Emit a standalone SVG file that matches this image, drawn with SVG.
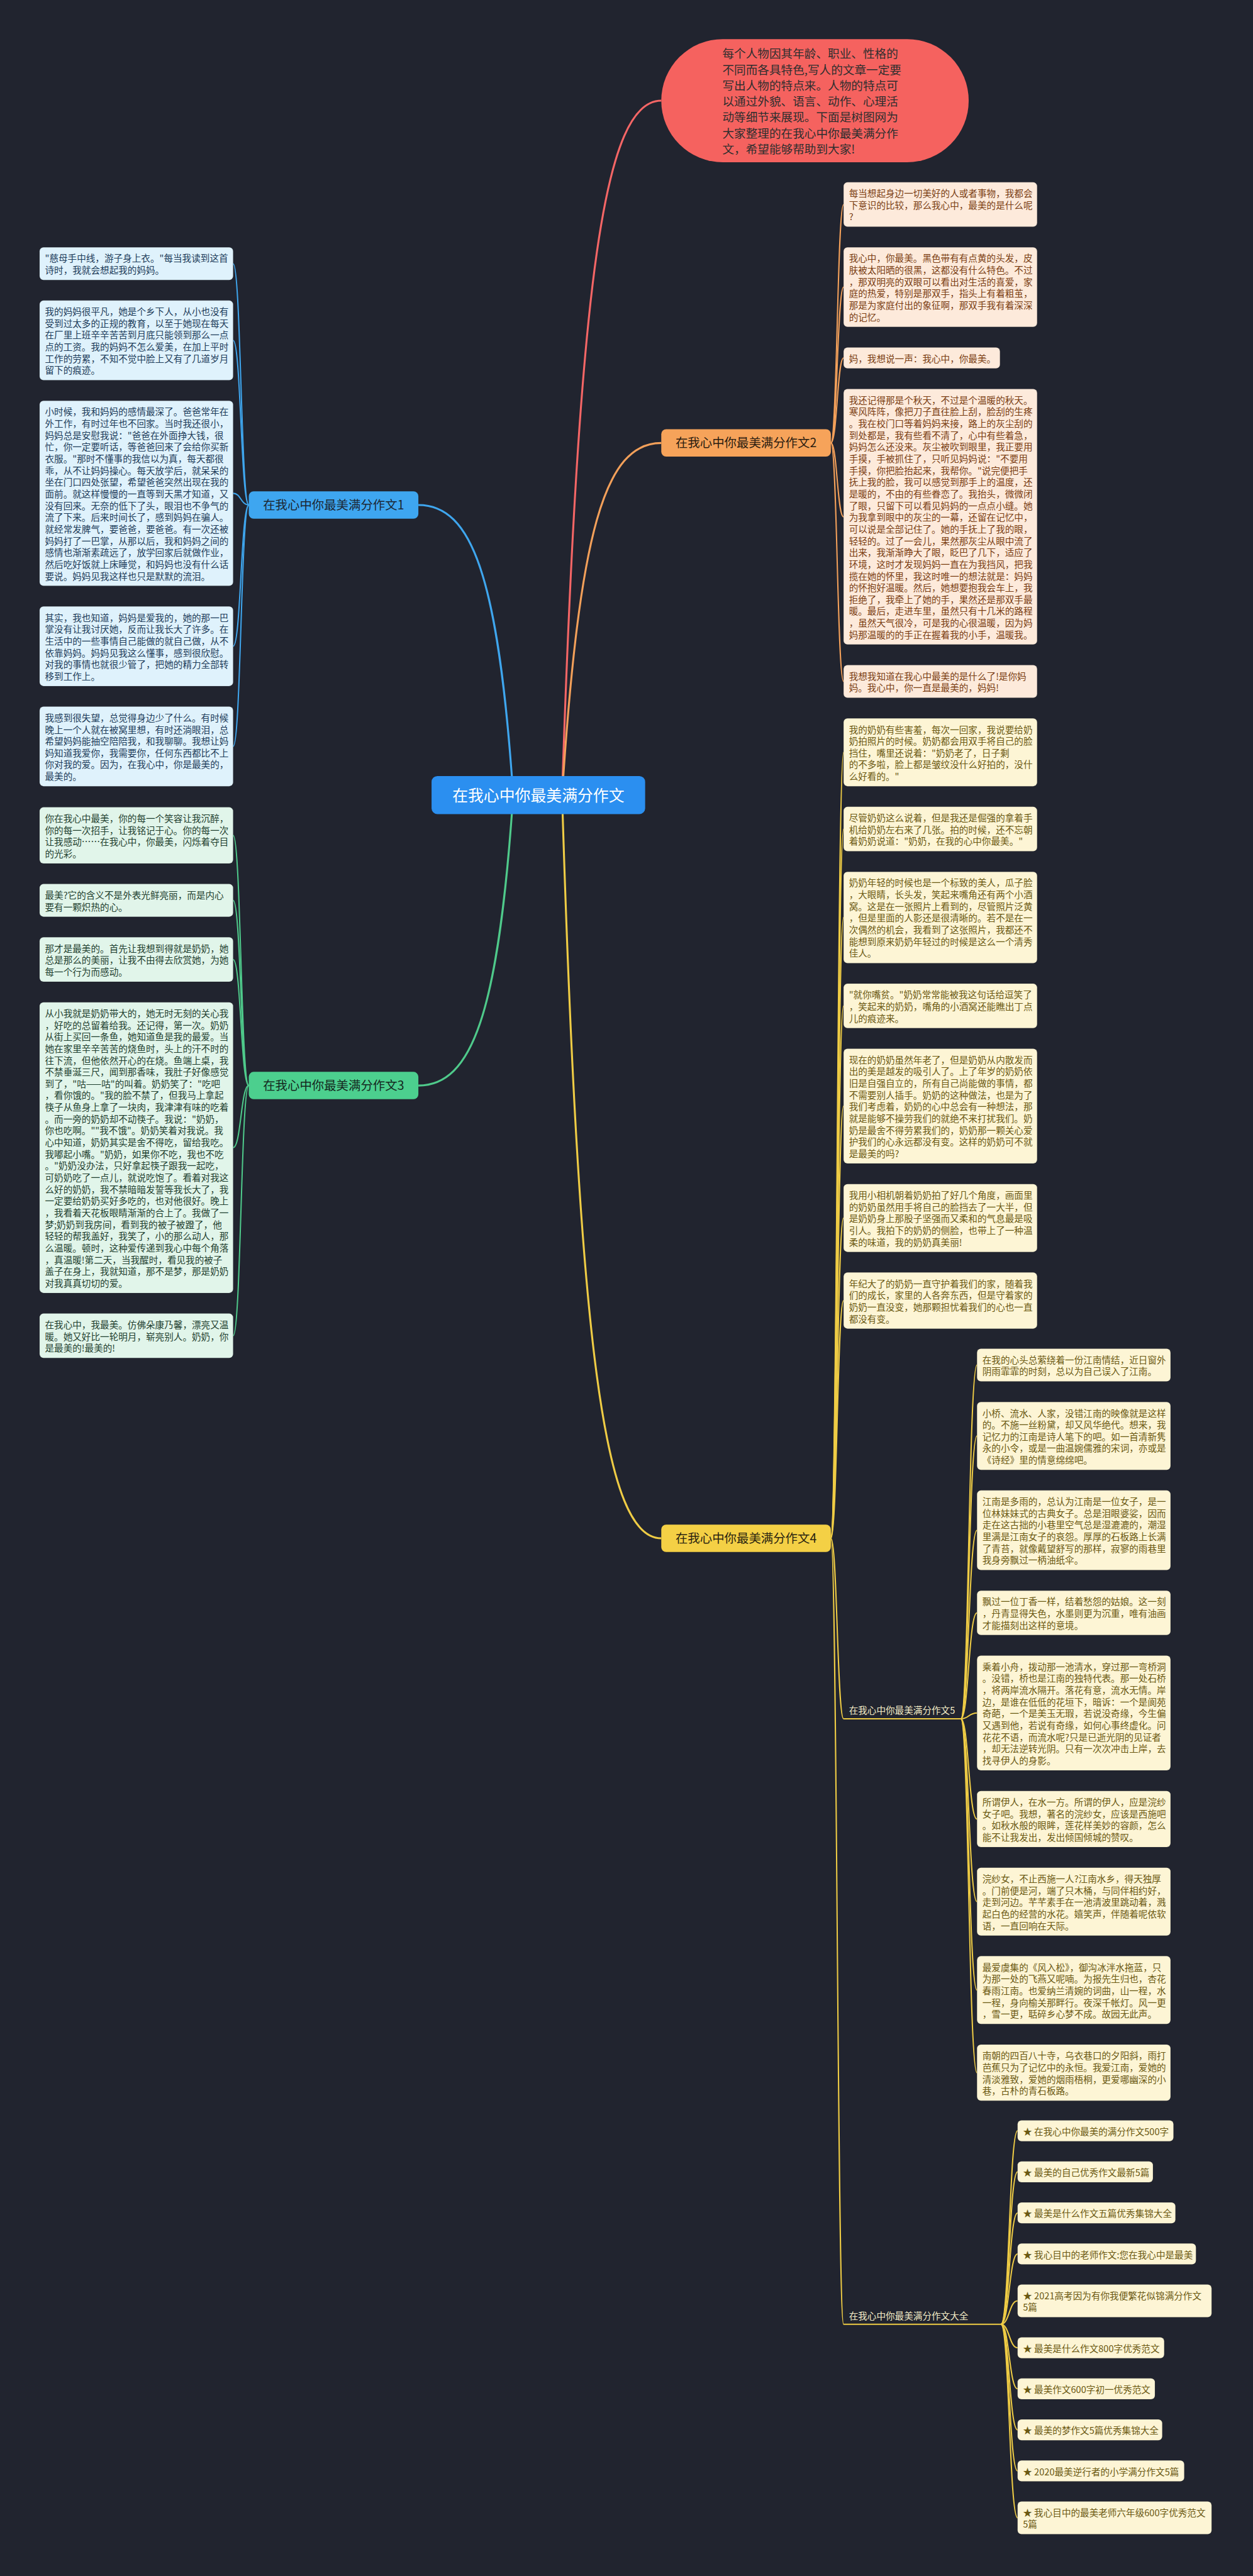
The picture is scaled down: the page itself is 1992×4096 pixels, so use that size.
<svg xmlns="http://www.w3.org/2000/svg" width="1992" height="4096" viewBox="0 0 1992 4096">
<style>
text{font-family:"Noto Sans CJK SC","Noto Sans",sans-serif;}
.t{font-size:18.8px;}
.fb{fill:#dff2fc}.tb{fill:#1d3c5a}
.fo{fill:#fdeadb}.to{fill:#7a3d12}
.fg{fill:#e1f5ea}.tg{fill:#1f3f2f}
.fy{fill:#fdf5d5}.ty{fill:#6b5912}
.box{stroke:#00000022;stroke-width:1}
.bl{font-size:25px;text-anchor:middle}
.cb{stroke:#3fa6ee}.co{stroke:#f3a05a}.cg{stroke:#4fca8b}.cy{stroke:#efcc45}.cr{stroke:#f56666}
#connectors path{fill:none;stroke-width:2.6}
#connectors path.main{stroke-width:4}
</style>
<rect width="1992" height="4096" fill="#21242f"/>
<g transform="scale(0.777)">
<g id="connectors">
<path class="main cr" d="M1150,1627 C1185,561 1237,206 1353,206"/>
<path class="main co" d="M1150,1627 C1185,1087 1237,906.5 1353,906.5"/>
<path class="main cy" d="M1150,1627 C1185,2767 1237,3148 1353,3148"/>
<path class="main cb" d="M1050,1627 C1020,1182 966,1033.5 856,1033.5"/>
<path class="main cg" d="M1050,1627 C1020,2073 966,2221.5 856,2221.5"/>
<path class="cb" d="M509,1033.5 C493,1033.5 493,539.5 477,539.5"/>
<path class="cb" d="M509,1033.5 C493,1033.5 493,696.5 477,696.5"/>
<path class="cb" d="M509,1033.5 C493,1033.5 493,1009.5 477,1009.5"/>
<path class="cb" d="M509,1033.5 C493,1033.5 493,1322.5 477,1322.5"/>
<path class="cb" d="M509,1033.5 C493,1033.5 493,1527.5 477,1527.5"/>
<path class="cg" d="M509,2221.5 C493,2221.5 493,1709.5 477,1709.5"/>
<path class="cg" d="M509,2221.5 C493,2221.5 493,1842.5 477,1842.5"/>
<path class="cg" d="M509,2221.5 C493,2221.5 493,1963.5 477,1963.5"/>
<path class="cg" d="M509,2221.5 C493,2221.5 493,2348.5 477,2348.5"/>
<path class="cg" d="M509,2221.5 C493,2221.5 493,2733.5 477,2733.5"/>
<path class="co" d="M1700,906.5 C1713,906.5 1713,418.5 1726,418.5"/>
<path class="co" d="M1700,906.5 C1713,906.5 1713,587.5 1726,587.5"/>
<path class="co" d="M1700,906.5 C1713,906.5 1713,732.5 1726,732.5"/>
<path class="co" d="M1700,906.5 C1713,906.5 1713,1057.5 1726,1057.5"/>
<path class="co" d="M1700,906.5 C1713,906.5 1713,1394.5 1726,1394.5"/>
<path class="cy" d="M1700,3148 C1713,3148 1713,1539.5 1726,1539.5"/>
<path class="cy" d="M1700,3148 C1713,3148 1713,1696.5 1726,1696.5"/>
<path class="cy" d="M1700,3148 C1713,3148 1713,1877.5 1726,1877.5"/>
<path class="cy" d="M1700,3148 C1713,3148 1713,2058.5 1726,2058.5"/>
<path class="cy" d="M1700,3148 C1713,3148 1713,2263.5 1726,2263.5"/>
<path class="cy" d="M1700,3148 C1713,3148 1713,2492.5 1726,2492.5"/>
<path class="cy" d="M1700,3148 C1713,3148 1713,2661.5 1726,2661.5"/>
<path class="cy" d="M1700,3148 C1713,3148 1713,3517.5 1726,3517.5"/>
<path class="cy" d="M1700,3148 C1713,3148 1713,4756.5 1726,4756.5"/>
<path class="cy" d="M1966,3517.5 C1982,3517.5 1982,2793.5 1999,2793.5"/>
<path class="cy" d="M1966,3517.5 C1982,3517.5 1982,2938.5 1999,2938.5"/>
<path class="cy" d="M1966,3517.5 C1982,3517.5 1982,3131.5 1999,3131.5"/>
<path class="cy" d="M1966,3517.5 C1982,3517.5 1982,3300.5 1999,3300.5"/>
<path class="cy" d="M1966,3517.5 C1982,3517.5 1982,3505.5 1999,3505.5"/>
<path class="cy" d="M1966,3517.5 C1982,3517.5 1982,3722.5 1999,3722.5"/>
<path class="cy" d="M1966,3517.5 C1982,3517.5 1982,3891.5 1999,3891.5"/>
<path class="cy" d="M1966,3517.5 C1982,3517.5 1982,4072.5 1999,4072.5"/>
<path class="cy" d="M1966,3517.5 C1982,3517.5 1982,4241.5 1999,4241.5"/>
<path class="cy" d="M2048,4756.5 C2065,4756.5 2065,4360.5 2082,4360.5"/>
<path class="cy" d="M2048,4756.5 C2065,4756.5 2065,4444.5 2082,4444.5"/>
<path class="cy" d="M2048,4756.5 C2065,4756.5 2065,4528.5 2082,4528.5"/>
<path class="cy" d="M2048,4756.5 C2065,4756.5 2065,4612.5 2082,4612.5"/>
<path class="cy" d="M2048,4756.5 C2065,4756.5 2065,4708.5 2082,4708.5"/>
<path class="cy" d="M2048,4756.5 C2065,4756.5 2065,4804.5 2082,4804.5"/>
<path class="cy" d="M2048,4756.5 C2065,4756.5 2065,4888.5 2082,4888.5"/>
<path class="cy" d="M2048,4756.5 C2065,4756.5 2065,4972.5 2082,4972.5"/>
<path class="cy" d="M2048,4756.5 C2065,4756.5 2065,5056.5 2082,5056.5"/>
<path class="cy" d="M2048,4756.5 C2065,4756.5 2065,5152.5 2082,5152.5"/>
<path class="cy" d="M1726,3517.5 H1966"/>
<path class="cy" d="M1726,4756.5 H2048"/>
</g>

<g id="root">
<rect x="883" y="1588" width="437" height="78" rx="12" fill="#2b8ff0"/>
<text x="1101.5" y="1639" font-size="32" fill="#ffffff" text-anchor="middle">在我心中你最美满分作文</text>
</g>

<g id="intro">
<rect x="1353" y="80" width="629" height="252" rx="126" fill="#f5625f"/>
<text x="1478" y="119" font-size="24" fill="#2e2e2e"><tspan x="1478" dy="0">每个人物因其年龄、职业、性格的</tspan><tspan x="1478" dy="32.5">不同而各具特色,写人的文章一定要</tspan><tspan x="1478" dy="32.5">写出人物的特点来。人物的特点可</tspan><tspan x="1478" dy="32.5">以通过外貌、语言、动作、心理活</tspan><tspan x="1478" dy="32.5">动等细节来展现。下面是树图网为</tspan><tspan x="1478" dy="32.5">大家整理的在我心中你最美满分作</tspan><tspan x="1478" dy="32.5">文，希望能够帮助到大家!</tspan></text>
</g>

<g id="branch1">
<rect x="509" y="1005.5" width="347" height="56" rx="10" fill="#3ea6f0"/>
<text class="bl" x="682.5" y="1042.5" fill="#1c2633">在我心中你最美满分作文1</text>
</g>
<g id="branch2">
<rect x="1353" y="878.5" width="347" height="56" rx="10" fill="#f6a35a"/>
<text class="bl" x="1526.5" y="915.5" fill="#2a1c10">在我心中你最美满分作文2</text>
</g>
<g id="branch3">
<rect x="509" y="2193.5" width="347" height="56" rx="10" fill="#4ccf8e"/>
<text class="bl" x="682.5" y="2230.5" fill="#14281e">在我心中你最美满分作文3</text>
</g>
<g id="branch4">
<rect x="1353" y="3120" width="347" height="56" rx="10" fill="#f4d045"/>
<text class="bl" x="1526.5" y="3157" fill="#2a2410">在我心中你最美满分作文4</text>
</g>

<g id="b1-1"><rect class="box fb" x="81" y="506" width="396" height="67" rx="8"/>
<text class="t tb" x="92" y="536"><tspan x="92" dy="0">"慈母手中线，游子身上衣。"每当我读到这首</tspan><tspan x="92" dy="24">诗时，我就会想起我的妈妈。</tspan></text></g>
<g id="b1-2"><rect class="box fb" x="81" y="615" width="396" height="163" rx="8"/>
<text class="t tb" x="92" y="645"><tspan x="92" dy="0">我的妈妈很平凡，她是个乡下人，从小也没有</tspan><tspan x="92" dy="24">受到过太多的正规的教育，以至于她现在每天</tspan><tspan x="92" dy="24">在厂里上班辛辛苦苦到月底只能领到那么一点</tspan><tspan x="92" dy="24">点的工资。我的妈妈不怎么爱美，在加上平时</tspan><tspan x="92" dy="24">工作的劳累，不知不觉中脸上又有了几道岁月</tspan><tspan x="92" dy="24">留下的痕迹。</tspan></text></g>
<g id="b1-3"><rect class="box fb" x="81" y="820" width="396" height="379" rx="8"/>
<text class="t tb" x="92" y="850"><tspan x="92" dy="0">小时候，我和妈妈的感情最深了。爸爸常年在</tspan><tspan x="92" dy="24">外工作，有时过年也不回家。当时我还很小，</tspan><tspan x="92" dy="24">妈妈总是安慰我说："爸爸在外面挣大钱，很</tspan><tspan x="92" dy="24">忙，你一定要听话，等爸爸回来了会给你买新</tspan><tspan x="92" dy="24">衣服。"那时不懂事的我信以为真，每天都很</tspan><tspan x="92" dy="24">乖，从不让妈妈操心。每天放学后，就呆呆的</tspan><tspan x="92" dy="24">坐在门口四处张望，希望爸爸突然出现在我的</tspan><tspan x="92" dy="24">面前。就这样慢慢的一直等到天黑才知道，又</tspan><tspan x="92" dy="24">没有回来。无奈的低下了头，眼泪也不争气的</tspan><tspan x="92" dy="24">流了下来。后来时间长了，感到妈妈在骗人。</tspan><tspan x="92" dy="24">就经常发脾气，要爸爸，要爸爸。有一次还被</tspan><tspan x="92" dy="24">妈妈打了一巴掌，从那以后，我和妈妈之间的</tspan><tspan x="92" dy="24">感情也渐渐素疏远了，放学回家后就做作业，</tspan><tspan x="92" dy="24">然后吃好饭就上床睡觉，和妈妈也没有什么话</tspan><tspan x="92" dy="24">要说。妈妈见我这样也只是默默的流泪。</tspan></text></g>
<g id="b1-4"><rect class="box fb" x="81" y="1241" width="396" height="163" rx="8"/>
<text class="t tb" x="92" y="1271"><tspan x="92" dy="0">其实，我也知道，妈妈是爱我的，她的那一巴</tspan><tspan x="92" dy="24">掌没有让我讨厌她，反而让我长大了许多。在</tspan><tspan x="92" dy="24">生活中的一些事情自己能做的就自己做，从不</tspan><tspan x="92" dy="24">依靠妈妈。妈妈见我这么懂事，感到很欣慰。</tspan><tspan x="92" dy="24">对我的事情也就很少管了，把她的精力全部转</tspan><tspan x="92" dy="24">移到工作上。</tspan></text></g>
<g id="b1-5"><rect class="box fb" x="81" y="1446" width="396" height="163" rx="8"/>
<text class="t tb" x="92" y="1476"><tspan x="92" dy="0">我感到很失望，总觉得身边少了什么。有时候</tspan><tspan x="92" dy="24">晚上一个人就在被窝里想，有时还淌眼泪，总</tspan><tspan x="92" dy="24">希望妈妈能抽空陪陪我，和我聊聊。我想让妈</tspan><tspan x="92" dy="24">妈知道我爱你，我需要你，任何东西都比不上</tspan><tspan x="92" dy="24">你对我的爱。因为，在我心中，你是最美的，</tspan><tspan x="92" dy="24">最美的。</tspan></text></g>

<g id="b3-1"><rect class="box fg" x="81" y="1652" width="396" height="115" rx="8"/>
<text class="t tg" x="92" y="1682"><tspan x="92" dy="0">你在我心中最美，你的每一个笑容让我沉醉，</tspan><tspan x="92" dy="24">你的每一次招手，让我铭记于心。你的每一次</tspan><tspan x="92" dy="24">让我感动……在我心中，你最美，闪烁着夺目</tspan><tspan x="92" dy="24">的光彩。</tspan></text></g>
<g id="b3-2"><rect class="box fg" x="81" y="1809" width="396" height="67" rx="8"/>
<text class="t tg" x="92" y="1839"><tspan x="92" dy="0">最美?它的含义不是外表光鲜亮丽，而是内心</tspan><tspan x="92" dy="24">要有一颗炽热的心。</tspan></text></g>
<g id="b3-3"><rect class="box fg" x="81" y="1918" width="396" height="91" rx="8"/>
<text class="t tg" x="92" y="1948"><tspan x="92" dy="0">那才是最美的。首先让我想到得就是奶奶，她</tspan><tspan x="92" dy="24">总是那么的美丽，让我不由得去欣赏她，为她</tspan><tspan x="92" dy="24">每一个行为而感动。</tspan></text></g>
<g id="b3-4"><rect class="box fg" x="81" y="2051" width="396" height="595" rx="8"/>
<text class="t tg" x="92" y="2081"><tspan x="92" dy="0">从小我就是奶奶带大的，她无时无刻的关心我</tspan><tspan x="92" dy="24">，好吃的总留着给我。还记得，第一次。奶奶</tspan><tspan x="92" dy="24">从街上买回一条鱼，她知道鱼是我的最爱。当</tspan><tspan x="92" dy="24">她在家里辛辛苦苦的烧鱼时，头上的汗不时的</tspan><tspan x="92" dy="24">往下流，但他依然开心的在烧。鱼端上桌，我</tspan><tspan x="92" dy="24">不禁垂涎三尺，闻到那香味，我肚子好像感觉</tspan><tspan x="92" dy="24">到了，"咕——咕"的叫着。奶奶笑了："吃吧</tspan><tspan x="92" dy="24">，看你饿的。"我的脸不禁了，但我马上拿起</tspan><tspan x="92" dy="24">筷子从鱼身上拿了一块肉，我津津有味的吃着</tspan><tspan x="92" dy="24">。而一旁的奶奶却不动筷子。我说："奶奶，</tspan><tspan x="92" dy="24">你也吃啊。""我不饿"。奶奶笑着对我说。我</tspan><tspan x="92" dy="24">心中知道，奶奶其实是舍不得吃，留给我吃。</tspan><tspan x="92" dy="24">我嘟起小嘴。"奶奶，如果你不吃，我也不吃</tspan><tspan x="92" dy="24">。"奶奶没办法，只好拿起筷子跟我一起吃，</tspan><tspan x="92" dy="24">可奶奶吃了一点儿，就说吃饱了。看着对我这</tspan><tspan x="92" dy="24">么好的奶奶，我不禁暗暗发誓等我长大了，我</tspan><tspan x="92" dy="24">一定要给奶奶买好多吃的，也对他很好。晚上</tspan><tspan x="92" dy="24">，我看着天花板眼睛渐渐的合上了。我做了一</tspan><tspan x="92" dy="24">梦;奶奶到我房间，看到我的被子被蹬了，他</tspan><tspan x="92" dy="24">轻轻的帮我盖好，我笑了，小的那么动人，那</tspan><tspan x="92" dy="24">么温暖。顿时，这种爱传递到我心中每个角落</tspan><tspan x="92" dy="24">，真温暖!第二天，当我醒时，看见我的被子</tspan><tspan x="92" dy="24">盖子在身上，我就知道，那不是梦，那是奶奶</tspan><tspan x="92" dy="24">对我真真切切的爱。</tspan></text></g>
<g id="b3-5"><rect class="box fg" x="81" y="2688" width="396" height="91" rx="8"/>
<text class="t tg" x="92" y="2718"><tspan x="92" dy="0">在我心中，我最美。仿佛朵康乃馨，漂亮又温</tspan><tspan x="92" dy="24">暖。她又好比一轮明月，崭亮别人。奶奶，你</tspan><tspan x="92" dy="24">是最美的!最美的!</tspan></text></g>

<g id="b2-1"><rect class="box fo" x="1726" y="373" width="396" height="91" rx="8"/>
<text class="t to" x="1737" y="403"><tspan x="1737" dy="0">每当想起身边一切美好的人或者事物，我都会</tspan><tspan x="1737" dy="24">下意识的比较，那么我心中，最美的是什么呢</tspan><tspan x="1737" dy="24">?</tspan></text></g>
<g id="b2-2"><rect class="box fo" x="1726" y="506" width="396" height="163" rx="8"/>
<text class="t to" x="1737" y="536"><tspan x="1737" dy="0">我心中，你最美。黑色带有有点黄的头发，皮</tspan><tspan x="1737" dy="24">肤被太阳晒的很黑，这都没有什么特色。不过</tspan><tspan x="1737" dy="24">，那双明亮的双眼可以看出对生活的喜爱，家</tspan><tspan x="1737" dy="24">庭的热爱，特别是那双手，指头上有着粗茧，</tspan><tspan x="1737" dy="24">那是为家庭付出的象征啊，那双手我有着深深</tspan><tspan x="1737" dy="24">的记忆。</tspan></text></g>
<g id="b2-3"><rect class="box fo" x="1726" y="711" width="320" height="43" rx="8"/>
<text class="t to" x="1737" y="741">妈，我想说一声：我心中，你最美。</text></g>
<g id="b2-4"><rect class="box fo" x="1726" y="796" width="396" height="523" rx="8"/>
<text class="t to" x="1737" y="826"><tspan x="1737" dy="0">我还记得那是个秋天，不过是个温暖的秋天。</tspan><tspan x="1737" dy="24">寒风阵阵，像把刀子直往脸上刮，脸刮的生疼</tspan><tspan x="1737" dy="24">。我在校门口等着妈妈来接，路上的灰尘刮的</tspan><tspan x="1737" dy="24">到处都是，我有些看不清了，心中有些着急，</tspan><tspan x="1737" dy="24">妈妈怎么还没来。灰尘被吹到眼里，我正要用</tspan><tspan x="1737" dy="24">手摸，手被抓住了，只听见妈妈说："不要用</tspan><tspan x="1737" dy="24">手摸，你把脸抬起来，我帮你。"说完便把手</tspan><tspan x="1737" dy="24">抚上我的脸，我可以感觉到那手上的温度，还</tspan><tspan x="1737" dy="24">是暖的，不由的有些眷恋了。我抬头，微微闭</tspan><tspan x="1737" dy="24">了眼，只留下可以看见妈妈的一点点小缝。她</tspan><tspan x="1737" dy="24">为我拿到眼中的灰尘的一幕，还留在记忆中，</tspan><tspan x="1737" dy="24">可以说是全部记住了。她的手抚上了我的眼，</tspan><tspan x="1737" dy="24">轻轻的。过了一会儿，果然那灰尘从眼中流了</tspan><tspan x="1737" dy="24">出来，我渐渐睁大了眼，眨巴了几下，适应了</tspan><tspan x="1737" dy="24">环境，这时才发现妈妈一直在为我挡风，把我</tspan><tspan x="1737" dy="24">揽在她的怀里，我这时唯一的想法就是：妈妈</tspan><tspan x="1737" dy="24">的怀抱好温暖。然后，她想要抱我会车上，我</tspan><tspan x="1737" dy="24">拒绝了，我牵上了她的手，果然还是那双手最</tspan><tspan x="1737" dy="24">暖。最后，走进车里，虽然只有十几米的路程</tspan><tspan x="1737" dy="24">，虽然天气很冷，可是我的心很温暖，因为妈</tspan><tspan x="1737" dy="24">妈那温暖的的手正在握着我的小手，温暖我。</tspan></text></g>
<g id="b2-5"><rect class="box fo" x="1726" y="1361" width="396" height="67" rx="8"/>
<text class="t to" x="1737" y="1391"><tspan x="1737" dy="0">我想我知道在我心中最美的是什么了!是你妈</tspan><tspan x="1737" dy="24">妈。我心中，你一直是最美的，妈妈!</tspan></text></g>

<g id="b4-1"><rect class="box fy" x="1726" y="1470" width="396" height="139" rx="8"/>
<text class="t ty" x="1737" y="1500"><tspan x="1737" dy="0">我的奶奶有些害羞，每次一回家，我说要给奶</tspan><tspan x="1737" dy="24">奶拍照片的时候。奶奶都会用双手将自己的脸</tspan><tspan x="1737" dy="24">挡住，嘴里还说着："奶奶老了，日子剩</tspan><tspan x="1737" dy="24">的不多啦，脸上都是皱纹没什么好拍的，没什</tspan><tspan x="1737" dy="24">么好看的。"</tspan></text></g>
<g id="b4-2"><rect class="box fy" x="1726" y="1651" width="396" height="91" rx="8"/>
<text class="t ty" x="1737" y="1681"><tspan x="1737" dy="0">尽管奶奶这么说着，但是我还是倔强的拿着手</tspan><tspan x="1737" dy="24">机给奶奶左右来了几张。拍的时候，还不忘朝</tspan><tspan x="1737" dy="24">着奶奶说道："奶奶，在我的心中你最美。"</tspan></text></g>
<g id="b4-3"><rect class="box fy" x="1726" y="1784" width="396" height="187" rx="8"/>
<text class="t ty" x="1737" y="1814"><tspan x="1737" dy="0">奶奶年轻的时候也是一个标致的美人，瓜子脸</tspan><tspan x="1737" dy="24">，大眼睛，长头发，笑起来嘴角还有两个小酒</tspan><tspan x="1737" dy="24">窝。这是在一张照片上看到的，尽管照片泛黄</tspan><tspan x="1737" dy="24">，但是里面的人影还是很清晰的。若不是在一</tspan><tspan x="1737" dy="24">次偶然的机会，我看到了这张照片，我都还不</tspan><tspan x="1737" dy="24">能想到原来奶奶年轻过的时候是这么一个清秀</tspan><tspan x="1737" dy="24">佳人。</tspan></text></g>
<g id="b4-4"><rect class="box fy" x="1726" y="2013" width="396" height="91" rx="8"/>
<text class="t ty" x="1737" y="2043"><tspan x="1737" dy="0">"就你嘴贫。"奶奶常常能被我这句话给逗笑了</tspan><tspan x="1737" dy="24">，笑起来的奶奶，嘴角的小酒窝还能瞧出丁点</tspan><tspan x="1737" dy="24">儿的痕迹来。</tspan></text></g>
<g id="b4-5"><rect class="box fy" x="1726" y="2146" width="396" height="235" rx="8"/>
<text class="t ty" x="1737" y="2176"><tspan x="1737" dy="0">现在的奶奶虽然年老了，但是奶奶从内散发而</tspan><tspan x="1737" dy="24">出的美是越发的吸引人了。上了年岁的奶奶依</tspan><tspan x="1737" dy="24">旧是自强自立的，所有自己尚能做的事情，都</tspan><tspan x="1737" dy="24">不需要别人插手。奶奶的这种做法，也是为了</tspan><tspan x="1737" dy="24">我们考虑着，奶奶的心中总会有一种想法，那</tspan><tspan x="1737" dy="24">就是能够不操劳我们的就绝不来打扰我们。奶</tspan><tspan x="1737" dy="24">奶是最舍不得劳累我们的，奶奶那一颗关心爱</tspan><tspan x="1737" dy="24">护我们的心永远都没有变。这样的奶奶可不就</tspan><tspan x="1737" dy="24">是最美的吗?</tspan></text></g>
<g id="b4-6"><rect class="box fy" x="1726" y="2423" width="396" height="139" rx="8"/>
<text class="t ty" x="1737" y="2453"><tspan x="1737" dy="0">我用小相机朝着奶奶拍了好几个角度，画面里</tspan><tspan x="1737" dy="24">的奶奶虽然用手将自己的脸挡去了一大半，但</tspan><tspan x="1737" dy="24">是奶奶身上那股子坚强而又柔和的气息最是吸</tspan><tspan x="1737" dy="24">引人。我拍下的奶奶的侧脸，也带上了一种温</tspan><tspan x="1737" dy="24">柔的味道，我的奶奶真美丽!</tspan></text></g>
<g id="b4-7"><rect class="box fy" x="1726" y="2604" width="396" height="115" rx="8"/>
<text class="t ty" x="1737" y="2634"><tspan x="1737" dy="0">年纪大了的奶奶一直守护着我们的家，随着我</tspan><tspan x="1737" dy="24">们的成长，家里的人各奔东西，但是守着家的</tspan><tspan x="1737" dy="24">奶奶一直没变，她那颗担忧着我们的心也一直</tspan><tspan x="1737" dy="24">都没有变。</tspan></text></g>

<g id="branch5">
<text x="1737" y="3507" font-size="18.8" fill="#f4ecc8">在我心中你最美满分作文5</text>
</g>
<g id="b5-1"><rect class="box fy" x="1999" y="2760" width="396" height="67" rx="8"/>
<text class="t ty" x="2010" y="2790"><tspan x="2010" dy="0">在我的心头总萦绕着一份江南情结，近日窗外</tspan><tspan x="2010" dy="24">阴雨霏霏的时刻，总以为自己误入了江南。</tspan></text></g>
<g id="b5-2"><rect class="box fy" x="1999" y="2869" width="396" height="139" rx="8"/>
<text class="t ty" x="2010" y="2899"><tspan x="2010" dy="0">小桥、流水、人家，没错江南的映像就是这样</tspan><tspan x="2010" dy="24">的。不施一丝粉黛，却又风华绝代。想来，我</tspan><tspan x="2010" dy="24">记忆力的江南是诗人笔下的吧。如一首清新隽</tspan><tspan x="2010" dy="24">永的小令，或是一曲温婉儒雅的宋词，亦或是</tspan><tspan x="2010" dy="24">《诗经》里的情意绵绵吧。</tspan></text></g>
<g id="b5-3"><rect class="box fy" x="1999" y="3050" width="396" height="163" rx="8"/>
<text class="t ty" x="2010" y="3080"><tspan x="2010" dy="0">江南是多雨的，总认为江南是一位女子，是一</tspan><tspan x="2010" dy="24">位林妹妹式的古典女子。总是泪眼婆娑，因而</tspan><tspan x="2010" dy="24">走在这古拙的小巷里空气总是湿漉漉的，潮湿</tspan><tspan x="2010" dy="24">里满是江南女子的哀怨。厚厚的石板路上长满</tspan><tspan x="2010" dy="24">了青苔，就像戴望舒写的那样，寂寥的雨巷里</tspan><tspan x="2010" dy="24">我身旁飘过一柄油纸伞。</tspan></text></g>
<g id="b5-4"><rect class="box fy" x="1999" y="3255" width="396" height="91" rx="8"/>
<text class="t ty" x="2010" y="3285"><tspan x="2010" dy="0">飘过一位丁香一样，结着愁怨的姑娘。这一刻</tspan><tspan x="2010" dy="24">，丹青显得失色，水墨则更为沉重，唯有油画</tspan><tspan x="2010" dy="24">才能描刻出这样的意境。</tspan></text></g>
<g id="b5-5"><rect class="box fy" x="1999" y="3388" width="396" height="235" rx="8"/>
<text class="t ty" x="2010" y="3418"><tspan x="2010" dy="0">乘着小舟，拨动那一池清水，穿过那一弯桥洞</tspan><tspan x="2010" dy="24">。没错，桥也是江南的独特代表。那一处石桥</tspan><tspan x="2010" dy="24">，将两岸流水隔开。落花有意，流水无情。岸</tspan><tspan x="2010" dy="24">边，是谁在低低的花垣下，暗诉：一个是阆苑</tspan><tspan x="2010" dy="24">奇葩，一个是美玉无瑕，若说没奇缘，今生偏</tspan><tspan x="2010" dy="24">又遇到他，若说有奇缘，如何心事终虚化。问</tspan><tspan x="2010" dy="24">花花不语，而流水呢?只是已逝光阴的见证者</tspan><tspan x="2010" dy="24">，却无法逆转光阴。只有一次次冲击上岸，去</tspan><tspan x="2010" dy="24">找寻伊人的身影。</tspan></text></g>
<g id="b5-6"><rect class="box fy" x="1999" y="3665" width="396" height="115" rx="8"/>
<text class="t ty" x="2010" y="3695"><tspan x="2010" dy="0">所谓伊人，在水一方。所谓的伊人，应是浣纱</tspan><tspan x="2010" dy="24">女子吧。我想，著名的浣纱女，应该是西施吧</tspan><tspan x="2010" dy="24">。如秋水般的眼眸，莲花样美妙的容颜，怎么</tspan><tspan x="2010" dy="24">能不让我发出，发出倾国倾城的赞叹。</tspan></text></g>
<g id="b5-7"><rect class="box fy" x="1999" y="3822" width="396" height="139" rx="8"/>
<text class="t ty" x="2010" y="3852"><tspan x="2010" dy="0">浣纱女，不止西施一人?江南水乡，得天独厚</tspan><tspan x="2010" dy="24">。门前便是河，端了只木桶，与同伴相约好，</tspan><tspan x="2010" dy="24">走到河边。芊芊素手在一池清波里跳动着，溅</tspan><tspan x="2010" dy="24">起白色的经营的水花。嬉笑声，伴随着呢侬软</tspan><tspan x="2010" dy="24">语，一直回响在天际。</tspan></text></g>
<g id="b5-8"><rect class="box fy" x="1999" y="4003" width="396" height="139" rx="8"/>
<text class="t ty" x="2010" y="4033"><tspan x="2010" dy="0">最爱虞集的《风入松》，御沟冰泮水拖蓝，只</tspan><tspan x="2010" dy="24">为那一处的飞燕又呢喃。为报先生归也，杏花</tspan><tspan x="2010" dy="24">春雨江南。也爱纳兰清婉的词曲，山一程，水</tspan><tspan x="2010" dy="24">一程，身向榆关那畔行。夜深千帐灯。风一更</tspan><tspan x="2010" dy="24">，雪一更，聒碎乡心梦不成。故园无此声。</tspan></text></g>
<g id="b5-9"><rect class="box fy" x="1999" y="4184" width="396" height="115" rx="8"/>
<text class="t ty" x="2010" y="4214"><tspan x="2010" dy="0">南朝的四百八十寺，乌衣巷口的夕阳斜，雨打</tspan><tspan x="2010" dy="24">芭蕉只为了记忆中的永恒。我爱江南，爱她的</tspan><tspan x="2010" dy="24">清淡雅致，爱她的烟雨梧桐，更爱哪幽深的小</tspan><tspan x="2010" dy="24">巷，古朴的青石板路。</tspan></text></g>

<g id="branch6">
<text x="1737" y="4746" font-size="18.8" fill="#f4ecc8">在我心中你最美满分作文大全</text>
</g>
<g id="l-1"><rect class="box fy" x="2082" y="4339" width="319" height="43" rx="8"/><text class="t ty" x="2093" y="4369">★ 在我心中你最美的满分作文500字</text></g>
<g id="l-2"><rect class="box fy" x="2082" y="4423" width="277" height="43" rx="8"/><text class="t ty" x="2093" y="4453">★ 最美的自己优秀作文最新5篇</text></g>
<g id="l-3"><rect class="box fy" x="2082" y="4507" width="323" height="43" rx="8"/><text class="t ty" x="2093" y="4537">★ 最美是什么作文五篇优秀集锦大全</text></g>
<g id="l-4"><rect class="box fy" x="2082" y="4591" width="365" height="43" rx="8"/><text class="t ty" x="2093" y="4621">★ 我心目中的老师作文:您在我心中是最美</text></g>
<g id="l-5"><rect class="box fy" x="2082" y="4675" width="397" height="67" rx="8"/><text class="t ty" x="2093" y="4705"><tspan x="2093" dy="0">★ 2021高考因为有你我便繁花似锦满分作文</tspan><tspan x="2093" dy="24">5篇</tspan></text></g>
<g id="l-6"><rect class="box fy" x="2082" y="4783" width="300" height="43" rx="8"/><text class="t ty" x="2093" y="4813">★ 最美是什么作文800字优秀范文</text></g>
<g id="l-7"><rect class="box fy" x="2082" y="4867" width="281" height="43" rx="8"/><text class="t ty" x="2093" y="4897">★ 最美作文600字初一优秀范文</text></g>
<g id="l-8"><rect class="box fy" x="2082" y="4951" width="296" height="43" rx="8"/><text class="t ty" x="2093" y="4981">★ 最美的梦作文5篇优秀集锦大全</text></g>
<g id="l-9"><rect class="box fy" x="2082" y="5035" width="341" height="43" rx="8"/><text class="t ty" x="2093" y="5065">★ 2020最美逆行者的小学满分作文5篇</text></g>
<g id="l-10"><rect class="box fy" x="2082" y="5119" width="397" height="67" rx="8"/><text class="t ty" x="2093" y="5149"><tspan x="2093" dy="0">★ 我心目中的最美老师六年级600字优秀范文</tspan><tspan x="2093" dy="24">5篇</tspan></text></g>
</g>
</svg>
